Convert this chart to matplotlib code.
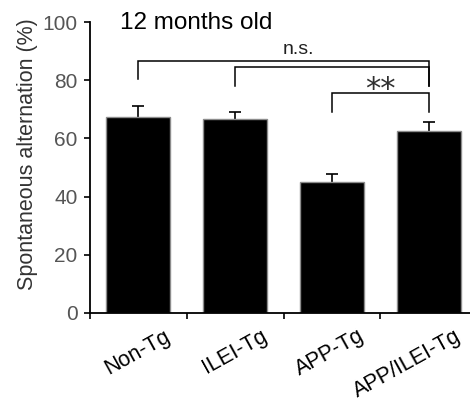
import numpy as np
import matplotlib
matplotlib.use("Agg")
import matplotlib.pyplot as plt
from matplotlib.transforms import ScaledTranslation

# data
groups = ["Non-Tg", "ILEI-Tg", "APP-Tg", "APP/ILEI-Tg"]
means = [67.2, 66.5, 45.1, 62.5]
sems = [3.9, 2.5, 2.7, 3.2]
y_ticks = [0, 20, 40, 60, 80, 100]

# significance brackets: (left group, right group, top, left foot, right foot)
brackets = [(0, 3, 86.6, 80.3, 78.0),
            (1, 3, 84.5, 78.0, 78.0),
            (2, 3, 75.5, 69.0, 69.0)]
bracket_labels = [("n.s.", 1.65, 89.0), ("**", 2.5, 74.0)]


def main():
    plt.rcParams['font.family'] = ['Liberation Sans', 'DejaVu Sans']
    fig = plt.figure(figsize=(4.70, 4.01), dpi=100)
    ax = fig.add_axes([90 / 470, 88 / 401, 387 / 470, 291 / 401])

    x = np.arange(len(groups))
    ax.bar(x, means, width=0.66, color='black', edgecolor='#8c8c8c',
           linewidth=1.0, zorder=2)
    # symmetric error bars drawn under the bars, so only the upper half shows
    ax.errorbar(x, means, yerr=sems, fmt='none',
                ecolor='black', elinewidth=1.2, capsize=4, capthick=1.2,
                zorder=1)

    for left, right, top, lfoot, rfoot in brackets:
        ax.plot([left, left, right, right], [lfoot, top, top, rfoot],
                color='black', lw=1.1, solid_joinstyle='miter', clip_on=False)

    ax.text(bracket_labels[0][1], bracket_labels[0][2], bracket_labels[0][0],
            ha='center', va='baseline', fontsize=14, color='#202020')
    ax.text(bracket_labels[1][1], bracket_labels[1][2], bracket_labels[1][0],
            ha='center', va='baseline', fontsize=22, color='#303030',
            family='DejaVu Sans')

    ax.text(-0.19, 97.6, "12 months old", ha='left', va='baseline',
            fontsize=17.5, color='black')

    ax.set_xlim(-0.5, 3.5)
    ax.set_ylim(0, 100)
    ax.set_yticks(y_ticks)
    ax.tick_params(axis='y', direction='out', length=4, width=1.2,
                   labelsize=15, labelcolor='#555555', pad=5)

    # labels at the bar centres, boundary ticks as minor ticks
    ax.set_xticks(x)
    ax.set_xticks(np.arange(-0.5, 4, 1), minor=True)
    ax.set_xticklabels(groups, rotation=29, ha='right', fontsize=15.5)
    ax.tick_params(axis='x', which='major', length=0, pad=9)
    ax.tick_params(axis='x', which='minor', direction='out', length=4, width=1.2)
    shift = ScaledTranslation(36 / 100, 0, fig.dpi_scale_trans)
    for lab in ax.get_xticklabels():
        lab.set_transform(lab.get_transform() + shift)

    for side in ['top', 'right']:
        ax.spines[side].set_visible(False)
    for side in ['left', 'bottom']:
        ax.spines[side].set_linewidth(1.3)

    ax.set_ylabel("Spontaneous alternation (%)", fontsize=15.5, color='#333333')
    ax.yaxis.set_label_coords(-0.135, 0.546)

    fig.savefig("out.png", dpi=100)


if __name__ == '__main__':
    main()
